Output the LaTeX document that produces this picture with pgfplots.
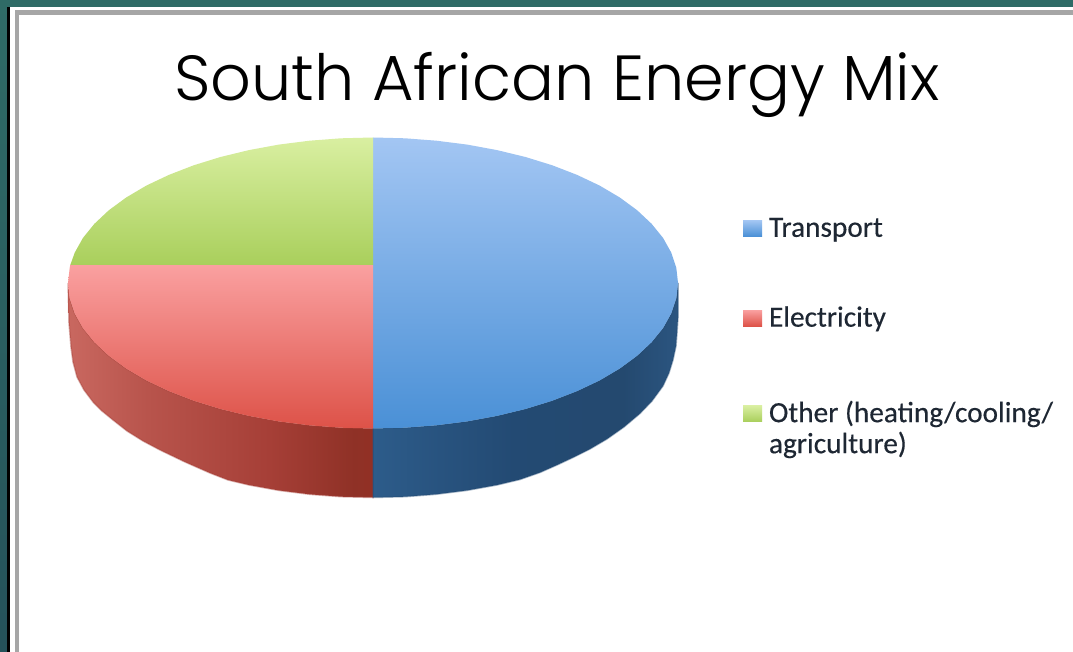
\documentclass[border=0pt]{standalone}
\usepackage{pgfplots}
\pgfplotsset{compat=1.18}
\usepackage{fontspec}
\setmainfont{Carlito}
\newfontfamily\titlefont{Poppins Light}
\newfontfamily\legendfont[FakeBold=0.35]{Carlito}

\definecolor{bandteal}{HTML}{2F6B66}
\definecolor{bandlow}{HTML}{25525A}
\definecolor{framegrey}{HTML}{A6A6A6}
\definecolor{legendtext}{HTML}{1E2733}
\definecolor{blueTop}{RGB}{163,198,243}
\definecolor{blueLow}{RGB}{74,144,214}
\definecolor{redTop}{RGB}{250,160,160}
\definecolor{redLow}{RGB}{221,82,72}
\definecolor{greenTop}{RGB}{217,239,161}
\definecolor{greenLow}{RGB}{169,207,92}
\definecolor{rw1}{RGB}{201,104,96}
\definecolor{rw2}{RGB}{184,84,76}
\definecolor{rw3}{RGB}{166,63,55}
\definecolor{rw4}{RGB}{143,49,38}
\definecolor{rw5}{RGB}{146,48,37}
\definecolor{bw1}{RGB}{45,92,138}
\definecolor{bw2}{RGB}{40,83,127}
\definecolor{bw3}{RGB}{35,74,115}
\definecolor{bw4}{RGB}{36,73,111}
\definecolor{bw5}{RGB}{43,85,128}

% side walls of the pie, shaded left to right
\pgfdeclarehorizontalshading{redwall}{100bp}{
  color(0bp)=(rw1); color(25bp)=(rw1); color(38bp)=(rw2); color(58bp)=(rw3);
  color(72bp)=(rw4); color(75bp)=(rw5); color(100bp)=(rw5)}
\pgfdeclarehorizontalshading{bluewall}{100bp}{
  color(0bp)=(bw1); color(25bp)=(bw1); color(36bp)=(bw2); color(48bp)=(bw3);
  color(66bp)=(bw4); color(75bp)=(bw5); color(100bp)=(bw5)}

\begin{document}
\begin{tikzpicture}
  \begin{axis}[
      scale only axis,
      width=1073pt, height=652pt,
      xmin=0, xmax=1073, ymin=0, ymax=652,
      y dir=reverse,
      axis lines=none,
      legend image code/.code={\path[#1] (0pt,0.5pt) rectangle (19pt,16.5pt);},
      legend style={
        at={(axis cs:743,218)}, anchor=north west,
        draw=none, fill=none, inner sep=0pt, outer sep=0pt,
        font=\legendfont\fontsize{29.3}{31}\selectfont\color{legendtext},
        row sep=68pt,
        nodes={inner sep=0pt},
        /tikz/every odd column/.style={column sep=7pt},
        cells={anchor=base west},
      },
    ]
    % slide frame
    \fill[bandteal] (axis cs:0,0) rectangle (axis cs:1073,7);
    \fill[bottom color=bandlow, top color=bandteal] (axis cs:0,0) rectangle (axis cs:7,652);
    \fill[black] (axis cs:7,7) rectangle (axis cs:10,652);
    \fill[white] (axis cs:10,7) rectangle (axis cs:1073,652);
    \fill[framegrey] (axis cs:15,10) rectangle (axis cs:1073,15);
    \fill[framegrey] (axis cs:15,10) rectangle (axis cs:19,652);

    % walls
    \addplot[forget plot, shading=redwall, draw=rw3, draw opacity=0.4, line width=1.5pt] coordinates {
      (68,283) (69.7,298.2) (74.7,313.3) (82.9,328) (94.4,342.2) (108.9,355.8)
      (126.2,368.5) (146.3,380.4) (168.9,391.1) (193.7,400.7) (220.5,409)
      (249,415.9) (278.8,421.4) (309.6,425.3) (341.1,427.7) (373,428.5)
      (373,497.5) (341.1,496.7) (309.6,494.3) (278.8,490.4) (249,485)
      (228,480) (210,473) (185,462) (160,450) (143,441) (127,431) (113,420)
      (102,411) (93,402) (84,390) (77,377) (73,362) (71,347) (70,335) (69,323)
    } -- cycle;
    \addplot[forget plot, shading=bluewall, draw=bw3, draw opacity=0.4, line width=1.5pt] coordinates {
      (678,283) (676.3,298.2) (671.3,313.3) (663.1,328) (651.6,342.2) (637.1,355.8)
      (619.8,368.5) (599.7,380.4) (577.1,391.1) (552.3,400.7) (525.5,409)
      (497,415.9) (467.2,421.4) (436.4,425.3) (404.9,427.7) (373,428.5)
      (373,497.5) (405,496.7) (436,494.3) (467,490.4) (497,485) (520,479.5)
      (540,472.5) (557,465) (573,457.5) (590,449) (607,439) (624,427) (640,413.5)
      (652,401) (663,386) (669,373) (673,360) (676,346) (677,333) (678,318) (678,303)
    } -- cycle;

    % top faces
    \addplot[top color=blueTop, bottom color=blueLow, draw=none] coordinates {
      (373,137.5) (404.9,138.3) (436.4,140.7) (467.2,144.6) (497,150.1) (525.5,157)
      (552.3,165.3) (577.1,174.9) (599.7,185.6) (619.8,197.5) (637.1,210.2)
      (651.6,223.8) (663.1,238) (671.3,252.7) (676.3,267.8) (678,283)
      (676.3,298.2) (671.3,313.3) (663.1,328) (651.6,342.2) (637.1,355.8)
      (619.8,368.5) (599.7,380.4) (577.1,391.1) (552.3,400.7) (525.5,409)
      (497,415.9) (467.2,421.4) (436.4,425.3) (404.9,427.7) (373,428.5)
    } -- cycle;
    \addlegendentry{Transport}
    \addplot[top color=redTop, bottom color=redLow, draw=none] coordinates {
      (373,265) (70.3,265) (69.7,267.8) (68,283) (69.7,298.2) (74.7,313.3)
      (82.9,328) (94.4,342.2) (108.9,355.8) (126.2,368.5) (146.3,380.4)
      (168.9,391.1) (193.7,400.7) (220.5,409) (249,415.9) (278.8,421.4)
      (309.6,425.3) (341.1,427.7) (373,428.5)
    } -- cycle;
    \addlegendentry{Electricity}
    \addplot[top color=greenTop, bottom color=greenLow, draw=none] coordinates {
      (373,265) (70.3,265) (74.7,252.7) (82.9,238) (94.4,223.8) (108.9,210.2)
      (126.2,197.5) (146.3,185.6) (168.9,174.9) (193.7,165.3) (220.5,157)
      (249,150.1) (278.8,144.6) (309.6,140.7) (341.1,138.3) (373,137.5)
    } -- cycle;
    \addlegendentry{\begin{tabular}[t]{@{}l@{}}\rule{0pt}{26pt}Other (heating/cooling/\\agriculture)\end{tabular}}

    \node[font=\titlefont\fontsize{63.7}{70}\selectfont, anchor=center]
      at (axis cs:557,85) {South African Energy Mix};
  \end{axis}
\end{tikzpicture}
\end{document}
